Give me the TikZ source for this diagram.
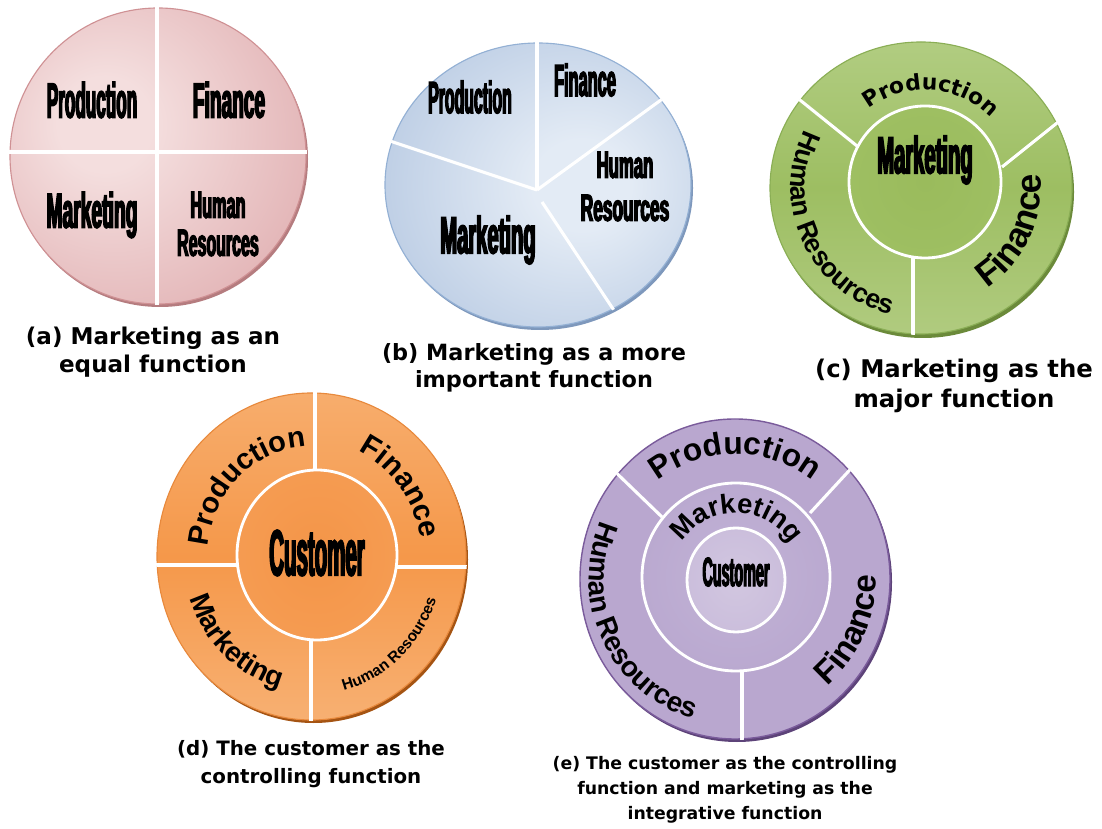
\documentclass[tikz,border=0pt]{standalone}
\usepackage{fontspec}
\usepackage{graphicx}
\usetikzlibrary{decorations.text}
\setmainfont{Liberation Sans}
\newfontfamily\condfont[FakeStretch=0.4,FakeBold=3]{Liberation Sans}
\newfontfamily\lsans{Liberation Sans}
\newfontfamily\capfont{DejaVu Sans}
\newcommand\cnd[3]{\scalebox{#2}[1]{\condfont\bfseries\fontsize{#1}{#1}\selectfont #3}}
\newcommand\hb[1]{\lsans\bfseries\fontsize{#1}{#1}\selectfont}
\newcommand\db[1]{\capfont\bfseries\fontsize{#1}{#1}\selectfont}
\newcommand\capf[2]{\capfont\bfseries\fontsize{#1}{#2}\selectfont}

\definecolor{pinkL}{HTML}{F4DEDE}
\definecolor{pinkD}{HTML}{D99DA0}
\definecolor{pinkO}{HTML}{CF9194}
\definecolor{pinkSh}{HTML}{B57C7F}
\definecolor{blueL}{HTML}{E3EBF5}
\definecolor{blueD}{HTML}{A2B9D9}
\definecolor{blueO}{HTML}{93B0D4}
\definecolor{blueSh}{HTML}{7E98BC}
\definecolor{greenT}{HTML}{C5DBA0}
\definecolor{greenM}{HTML}{9DBE62}
\definecolor{greenB}{HTML}{C3D89C}
\definecolor{greenIa}{HTML}{A2C368}
\definecolor{greenIb}{HTML}{9ABB5C}
\definecolor{greenO}{HTML}{8AAE55}
\definecolor{greenSh}{HTML}{6B8A3A}
\definecolor{orT}{HTML}{F9C28F}
\definecolor{orM}{HTML}{F5984A}
\definecolor{orB}{HTML}{FAC89A}
\definecolor{orIa}{HTML}{F6A25B}
\definecolor{orIb}{HTML}{F49548}
\definecolor{orO}{HTML}{E8893C}
\definecolor{orSh}{HTML}{A55413}
\definecolor{purA}{HTML}{B9A7CF}
\definecolor{purB}{HTML}{A38BBF}
\definecolor{purMa}{HTML}{C2B3D6}
\definecolor{purMb}{HTML}{B29FCA}
\definecolor{purIa}{HTML}{D2C7E0}
\definecolor{purIb}{HTML}{C4B5D8}
\definecolor{purO}{HTML}{7A5B9B}
\definecolor{purSh}{HTML}{5D4379}

\pgfdeclareradialshading{radA}{\pgfpoint{-10bp}{6bp}}{color(0bp)=(pinkL); color(8bp)=(pinkL); color(48bp)=(pinkD); color(80bp)=(pinkD)}
\pgfdeclareradialshading{radB}{\pgfpoint{8bp}{0bp}}{color(0bp)=(blueL); color(8bp)=(blueL); color(48bp)=(blueD); color(80bp)=(blueD)}
\pgfdeclareverticalshading{vertC}{100bp}{color(0bp)=(greenB); color(50bp)=(greenM); color(100bp)=(greenT)}
\pgfdeclareradialshading{radC}{\pgfpoint{0bp}{0bp}}{color(0bp)=(greenIb); color(50bp)=(greenIa); color(80bp)=(greenIa)}
\pgfdeclareverticalshading{vertD}{100bp}{color(0bp)=(orB); color(50bp)=(orM); color(100bp)=(orT)}
\pgfdeclareradialshading{radD}{\pgfpoint{0bp}{0bp}}{color(0bp)=(orIb); color(50bp)=(orIa); color(80bp)=(orIa)}
\pgfdeclareradialshading{radE}{\pgfpoint{0bp}{0bp}}{color(0bp)=(purA); color(25bp)=(purA); color(50bp)=(purB); color(80bp)=(purB)}
\pgfdeclareradialshading{radEm}{\pgfpoint{0bp}{0bp}}{color(0bp)=(purMa); color(50bp)=(purMb); color(80bp)=(purMb)}
\pgfdeclareradialshading{radEi}{\pgfpoint{0bp}{0bp}}{color(0bp)=(purIa); color(50bp)=(purIb); color(80bp)=(purIb)}

\tikzset{
  divider/.style={draw=white, line width=2.2pt},
  ringline/.style={draw=white, line width=2pt},
  lbl/.style={inner sep=0pt, text=black},
  captxt/.style={inner sep=0pt, align=center, text=black},
  arctext/.style 2 args={decorate, decoration={text along path, text align=center, text={|#1|#2}}},
}

\begin{document}
\begin{tikzpicture}[x=0.025cm,y=0.025cm]
\fill[white] (0,0) rectangle (1102,828);
\useasboundingbox (0,0) rectangle (1102,828);

% ---------- (a) ----------
\fill[pinkSh] (160,669) circle[radius=148];
\shade[shading=radA] (158,672) circle[radius=148];
\draw[pinkO, line width=0.8pt] (158,672) circle[radius=148];
\begin{scope}
  \clip (158,672) circle[radius=149];
  \draw[divider, line width=2.8pt] (157,830) -- (157,510);
  \draw[divider, line width=2.8pt] (0,676) -- (320,676);
\end{scope}
\node[lbl] (aprod) at (92,728) {\cnd{35}{0.87}{Production}};
\node[lbl] (afin) at (229,728) {\cnd{35}{0.97}{Finance}};
\node[lbl] (amkt) at (92,613) {\cnd{35}{0.98}{Marketing}};
\node[lbl] (ahum) at (218,623) {\cnd{27}{1.07}{Human}};
\node[lbl] (ares) at (218,585) {\cnd{27}{1.05}{Resources}};
\node[captxt, font=\capf{16.4}{20}] (capa) at (153,476) {(a) Marketing as an\\equal function};

% ---------- (b) ----------
\fill[blueSh] (540,640) ellipse[x radius=153, y radius=142];
\shade[shading=radB] (538,643) ellipse[x radius=153, y radius=142];
\draw[blueO, line width=0.8pt] (538,643) ellipse[x radius=153, y radius=142];
\coordinate (bhub) at (537,638);
\coordinate (btop) at (537,800);
\coordinate (bur) at (694,752);
\coordinate (bleft) at (363,696);
\coordinate (blrs) at (542,626);
\coordinate (blr) at (627,498);
\begin{scope}
  \clip (538,643) ellipse[x radius=154, y radius=143];
  \draw[divider] (bhub) -- (btop);
  \draw[divider] (bhub) -- (bur);
  \draw[divider] (bhub) -- (bleft);
  \draw[divider] (blrs) -- (blr);
\end{scope}
\node[lbl] (bprod) at (470,731) {\cnd{32}{0.88}{Production}};
\node[lbl] (bfin) at (585,748) {\cnd{32}{0.91}{Finance}};
\node[lbl] (bhum) at (625,663) {\cnd{27}{1.1}{Human}};
\node[lbl] (bres) at (625,620) {\cnd{27}{1.14}{Resources}};
\node[lbl] (bmkt) at (488,588) {\cnd{37}{0.97}{Marketing}};
\node[captxt, font=\capf{15.9}{19.2}] (capb) at (534,460.5) {(b) Marketing as a more\\important function};

% ---------- (c) ----------
\fill[greenSh] (923,636) ellipse[x radius=151, y radius=146];
\shade[shading=vertC] (921,640) ellipse[x radius=151, y radius=146];
\draw[greenO, line width=0.8pt] (921,640) ellipse[x radius=151, y radius=146];
\begin{scope}
  \clip (921,640) ellipse[x radius=152, y radius=147];
  \draw[divider] (790,736) -- (862,678);
  \draw[divider] (1067,713) -- (1002,661);
  \draw[divider] (913,571) -- (913,480);
\end{scope}
\shadedraw[shading=radC, ringline] (925,646) circle[radius=76];
\node[lbl] (cmkt) at (925,668) {\cnd{37}{0.97}{Marketing}};
\path[arctext={\db{15.5}}{Production}] (925,646) ++(176:92) arc[start angle=176, end angle=-4, radius=92];
\path[arctext={\hb{19}}{Human Resources}] (921,640) ++(115:130) arc[start angle=115, end angle=295, radius=130];
\path[arctext={\hb{25}}{Finance}] (921,640) ++(-115:120) arc[start angle=-115, end angle=65, radius=120];
\node[captxt, font=\capf{17.3}{21.3}] (capc) at (954,442) {(c) Marketing as the\\major function};

% ---------- (d) ----------
\fill[orSh] (313.5,268.5) ellipse[x radius=154.5, y radius=163.5];
\shade[shading=vertD] (311.5,271.5) ellipse[x radius=154.5, y radius=163.5];
\draw[orO, line width=0.8pt] (311.5,271.5) ellipse[x radius=154.5, y radius=163.5];
\begin{scope}
  \clip (311.5,271.5) ellipse[x radius=155.5, y radius=164.5];
  \draw[divider] (315,445) -- (315,330);
  \draw[divider] (140,263) -- (250,263);
  \draw[divider] (390,261) -- (480,261);
  \draw[divider] (311,200) -- (311,95);
\end{scope}
\shadedraw[shading=radD, ringline] (317,273) ellipse[x radius=80, y radius=85];
\node[lbl] (dcust) at (317,275) {\cnd{46}{0.79}{Customer}};
\path[arctext={\hb{20.6}}{Production}] (311.5,271.5) ++(223:104 and 110) arc[start angle=223, end angle=43, x radius=104, y radius=110];
\path[arctext={\hb{21}}{Finance}] (311.5,271.5) ++(128:110 and 116.5) arc[start angle=128, end angle=-52, x radius=110, y radius=116.5];
\path[arctext={\hb{20}}{Marketing}] (311.5,271.5) ++(138:128 and 135.5) arc[start angle=138, end angle=318, x radius=128, y radius=135.5];
\path[arctext={\hb{11}}{Human Resources}] (311.5,271.5) ++(-138:131 and 138.5) arc[start angle=-138, end angle=42, x radius=131, y radius=138.5];
\node[captxt, font=\capf{14.1}{20}] (capd) at (311,64) {(d) The customer as the\\controlling function};

% ---------- (e) ----------
\fill[purSh] (737,246) ellipse[x radius=155, y radius=160];
\shade[shading=radE] (735,249) ellipse[x radius=155, y radius=160];
\draw[purO, line width=1pt] (735,249) ellipse[x radius=155, y radius=160];
\begin{scope}
  \clip (735,249) ellipse[x radius=156, y radius=161];
  \draw[divider] (605,366) -- (662,311);
  \draw[divider] (858,367) -- (810,315);
  \draw[divider] (742,170) -- (742,80);
\end{scope}
\shadedraw[shading=radEm, ringline] (736,251) circle[radius=94];
\shadedraw[shading=radEi, ringline] (736,248) ellipse[x radius=49, y radius=52];
\node[lbl] (ecust) at (736,256) {\cnd{29}{0.88}{Customer}};
\path[arctext={\hb{22.5}}{Production}] (735,249) ++(180:125) arc[start angle=180, end angle=0, radius=125];
\path[arctext={\hb{19.5}}{Marketing}] (736,251) ++(179:64) arc[start angle=179, end angle=-1, radius=64];
\path[arctext={\hb{20}}{Human Resources}] (735,249) ++(115:146) arc[start angle=115, end angle=295, radius=146];
\path[arctext={\hb{23.5}}{Finance}] (735,249) ++(-114:141) arc[start angle=-114, end angle=66, radius=141];
\node[captxt, font=\capf{12.3}{17.8}] (cape) at (725,38) {(e) The customer as the controlling\\function and marketing as the\\integrative function};
\end{tikzpicture}
\end{document}
